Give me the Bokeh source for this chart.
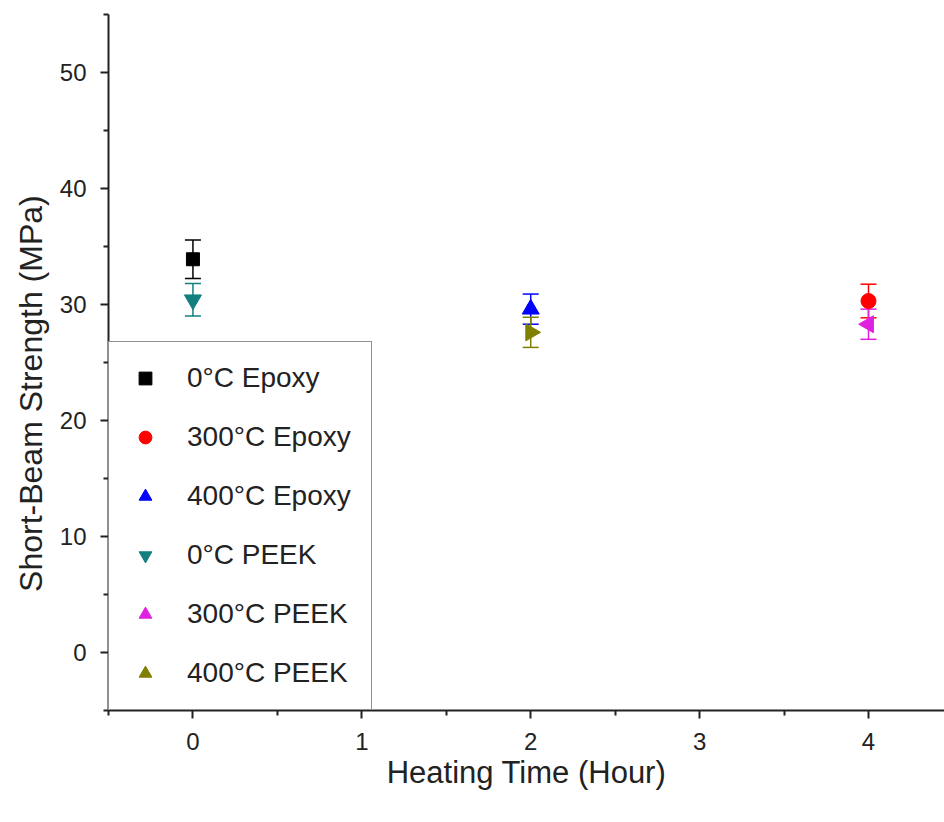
from bokeh.plotting import figure
from bokeh.models import (Range1d, FixedTicker, ColumnDataSource, Whisker, TeeHead,
                          Legend, LegendItem)
from bokeh.embed import file_html
from bokeh.resources import INLINE
import math

# ---- data ----
series = ["0°C Epoxy", "300°C Epoxy", "400°C Epoxy", "0°C PEEK", "300°C PEEK", "400°C PEEK"]
heating_time = [0, 4, 2, 0, 4, 2]
strength = [33.9, 30.3, 29.6, 30.4, 28.3, 27.6]
error = [1.65, 1.45, 1.3, 1.4, 1.3, 1.3]

x_ticks = [0, 1, 2, 3, 4]
x_minor = [-0.5, 0.5, 1.5, 2.5, 3.5, 4.5]
y_ticks = [0, 10, 20, 30, 40, 50]
y_minor = [-5, 5, 15, 25, 35, 45, 55]

# ---- styles ----
colors = ["#000000", "#FF0000", "#0000FF", "#137F7F", "#E020E0", "#7F7F00"]
markers = ["square", "circle", "triangle", "inverted_triangle", "triangle", "triangle"]
angles = [0, 0, 0, 0, math.pi / 2, -math.pi / 2]
sizes = [13, 15, 17, 17, 17, 17]
FONT = "Liberation Sans"

p = figure(width=944, height=822, output_backend="svg", toolbar_location=None,
           x_range=Range1d(-0.5, 4.45), y_range=Range1d(-5, 55),
           min_border_left=108, min_border_right=0, min_border_top=14,
           min_border_bottom=112)
p.outline_line_color = None
p.xgrid.visible = False
p.ygrid.visible = False
p.background_fill_color = "white"
p.border_fill_color = "white"

p.xaxis.ticker = FixedTicker(ticks=x_ticks, minor_ticks=x_minor)
p.yaxis.ticker = FixedTicker(ticks=y_ticks, minor_ticks=y_minor)
for ax in (p.xaxis, p.yaxis):
    ax.axis_line_color = "#222222"
    ax.axis_line_width = 2
    ax.major_tick_line_color = "#222222"
    ax.major_tick_line_width = 2
    ax.minor_tick_line_color = "#222222"
    ax.minor_tick_line_width = 2
    ax.major_tick_in = 0
    ax.major_tick_out = 8
    ax.minor_tick_in = 0
    ax.minor_tick_out = 5
    ax.major_label_text_font = FONT
    ax.major_label_text_font_size = "24px"
    ax.major_label_text_color = "#222222"
    ax.axis_label_text_font = FONT
    ax.axis_label_text_font_style = "normal"
    ax.axis_label_text_color = "#222222"

p.xaxis.axis_label = "Heating Time (Hour)"
# trailing no-break spaces shift the centred label slightly downward, as in the reference
p.yaxis.axis_label = "Short-Beam Strength (MPa)" + "\u00a0" * 7
p.xaxis.axis_label_text_font_size = "31px"
p.yaxis.axis_label_text_font_size = "32px"
p.xaxis.major_label_standoff = 14
p.yaxis.major_label_standoff = 14
p.xaxis.axis_label_standoff = 2
p.yaxis.axis_label_standoff = 8

items = []
for i, name in enumerate(series):
    src = ColumnDataSource(dict(x=[heating_time[i]], y=[strength[i]],
                                up=[strength[i] + error[i]], lo=[strength[i] - error[i]],
                                ang=[angles[i]]))
    w = Whisker(source=src, base="x", upper="up", lower="lo", dimension="height",
                line_color=colors[i], line_width=1.5, level="underlay",
                upper_head=TeeHead(size=16, line_color=colors[i], line_width=1.5),
                lower_head=TeeHead(size=16, line_color=colors[i], line_width=1.5))
    p.add_layout(w)
    r = p.scatter("x", "y", source=src, marker=markers[i], size=sizes[i],
                  angle="ang", fill_color=colors[i], line_color=colors[i])
    items.append(LegendItem(label=name, renderers=[r], index=0))

legend = Legend(items=items, location=(0, 0), margin=0, padding=20, spacing=27,
                glyph_width=32, glyph_height=32, label_height=32, label_standoff=26,
                label_text_font=FONT, label_text_font_size="28px",
                label_text_color="#222222",
                border_line_color="#222222", border_line_width=1.5,
                background_fill_color="white", background_fill_alpha=1.0)
p.add_layout(legend, "center")

open("out.html", "w").write(file_html(p, INLINE))
